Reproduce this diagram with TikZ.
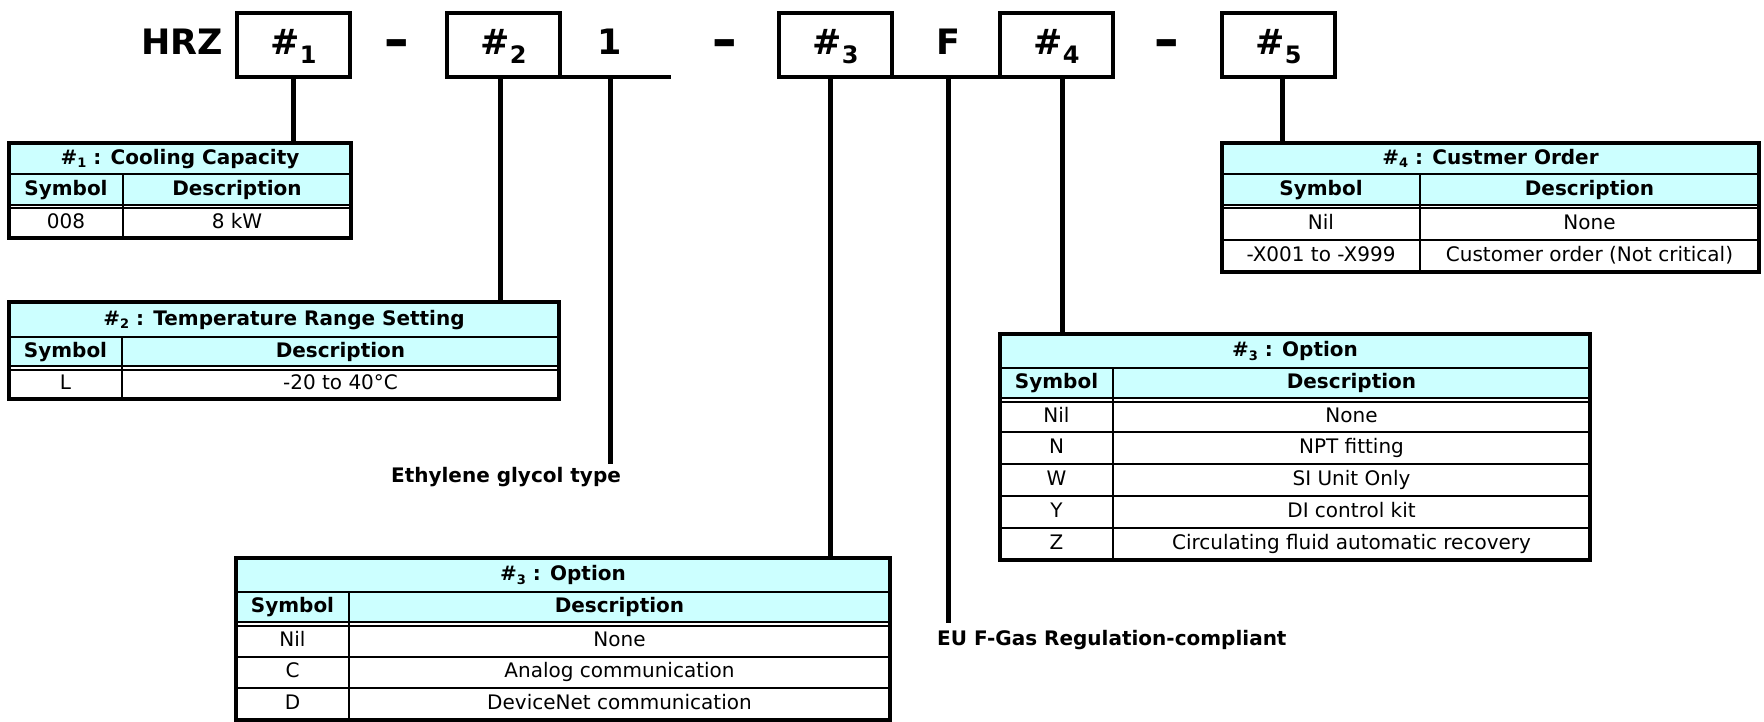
\documentclass[tikz,border=0pt]{standalone}
\usepackage{fontspec}
\setmainfont{DejaVu Sans}
\definecolor{hdrcyan}{HTML}{CCFFFF}
\tikzset{
 box/.style={draw, line width=4pt, minimum width=113pt, minimum height=64pt, anchor=north west, outer sep=0pt, inner sep=0pt, font=\fontsize{35}{40}\selectfont\bfseries, text height=26pt, text depth=6pt},
 big/.style={font=\fontsize{35}{40}\selectfont\bfseries, anchor=base, inner sep=0pt},
 conn/.style={line width=5pt},
 baseln/.style={line width=4pt},
 tframe/.style={draw=none, anchor=north west, inner sep=0pt, outer sep=0pt},
 tborder/.style={line width=4pt},
 tline/.style={line width=2pt},
 tb/.style={font=\fontsize{20}{24}\selectfont\bfseries, inner sep=0pt, text height=14.5pt, text depth=4pt},
 tr/.style={font=\fontsize{20}{24}\selectfont, inner sep=0pt, text height=14.5pt, text depth=4pt},
 lbl/.style={font=\fontsize{20}{24}\selectfont\bfseries, inner sep=0pt},
}
\newcommand\hsub[1]{\raisebox{-9pt}{\fontsize{24}{24}\selectfont #1}}
\newcommand\tsub[1]{\raisebox{-3.5pt}{\fontsize{13}{13}\selectfont #1}}
\newcommand\bigdash{\raisebox{-4pt}{\scalebox{1.4}[1.6]{–}}}
\begin{document}
\begin{tikzpicture}[x=1pt,y=-1pt]
\useasboundingbox (0,0) rectangle (1764,722);
\fill[white] (0,0) rectangle (1764,722);

% ---------- header ----------
\node[big] (hrz) at (182,55) {HRZ};
\node[box] (b1) at (237,13) {\#\hsub{1}};
\node[big] (d1) at (397,55) {\bigdash};
\node[box] (b2) at (447,13) {\#\hsub{2}};
\node[big] (one) at (610,55) {1};
\coordinate (u1) at (671,77);
\node[big] (d2) at (725,55) {\bigdash};
\node[box] (b3) at (779,13) {\#\hsub{3}};
\node[big] (f) at (948,55) {F};
\node[box] (b4) at (1000,13) {\#\hsub{4}};
\node[big] (d3) at (1167,55) {\bigdash};
\node[box] (b5) at (1222,13) {\#\hsub{5}};
\draw[baseln] (b2.south east) -- (u1);
\draw[baseln] (b3.south east) -- (b4.south west);

% ---------- labels ----------
\node[lbl, anchor=north] (eth) at (506,467) {Ethylene glycol type};
\node[lbl, anchor=north west] (eu) at (937,630) {EU F-Gas Regulation-compliant};

% ---------- table frames (references) ----------
\node[tframe, minimum width=342pt, minimum height=95pt] (t1) at (9,143) {};
\node[tframe, minimum width=550pt, minimum height=97pt] (t2) at (9,302) {};
\node[tframe, minimum width=654pt, minimum height=162pt] (t3) at (236,558) {};
\node[tframe, minimum width=590pt, minimum height=226pt] (t4) at (1000,334) {};
\node[tframe, minimum width=537pt, minimum height=129pt] (t5) at (1222,143) {};

% ---------- connectors ----------
\draw[conn] (b1.south) -- (b1.south |- t1.north);
\draw[conn] ([xshift=-3pt]b2.south) -- ([xshift=-3pt]b2.south |- t2.north);
\draw[conn] (one |- u1) -- ([yshift=3pt]one |- eth.north);
\draw[conn] ([xshift=-5pt]b3.south) -- ([xshift=-5pt]b3.south |- t3.north);
\draw[conn] (f |- b3.south) -- ([yshift=7pt]f |- eu.north);
\draw[conn] ([xshift=6pt]b4.south) -- ([xshift=6pt]b4.south |- t4.north);
\draw[conn] ([xshift=4pt]b5.south) -- ([xshift=4pt]b5.south |- t5.north);

% ---------- table 1 ----------
\fill[hdrcyan] (9,143) rectangle (351,205);
\draw[tline] (9,174) -- (351,174);
\draw[tline] (123,174) -- (123,238);
\draw[tline] (9,205) -- (351,205);
\draw[tline] (9,208.5) -- (351,208.5);
\draw[tborder] (t1.north west) rectangle (t1.south east);
\node[tb] (t1h) at (180,159) {\#\tsub{1} : Cooling Capacity};
\node[tb] (t1s) at (66,190) {Symbol};
\node[tb] (t1d) at (237,190) {Description};
\node[tr] (t1a) at (66,223.5) {008};
\node[tr] (t1b) at (237,223.5) {8 kW};

% ---------- table 2 ----------
\fill[hdrcyan] (9,302) rectangle (559,366);
\draw[tline] (9,337) -- (559,337);
\draw[tline] (122,337) -- (122,399);
\draw[tline] (9,366) -- (559,366);
\draw[tline] (9,369.5) -- (559,369.5);
\draw[tborder] (t2.north west) rectangle (t2.south east);
\node[tb] (t2h) at (284,320) {\#\tsub{2} : Temperature Range Setting};
\node[tb] (t2s) at (65.5,352) {Symbol};
\node[tb] (t2d) at (340.5,352) {Description};
\node[tr] (t2a) at (65.5,384.5) {L};
\node[tr] (t2b) at (340.5,384.5) {-20 to 40°C};

% ---------- table 3 (bottom) ----------
\fill[hdrcyan] (236,558) rectangle (890,622);
\draw[tline] (236,592) -- (890,592);
\draw[tline] (349,592) -- (349,720);
\draw[tline] (236,622) -- (890,622);
\draw[tline] (236,625.5) -- (890,625.5);
\draw[tline] (236,657) -- (890,657);
\draw[tline] (236,688) -- (890,688);
\draw[tborder] (t3.north west) rectangle (t3.south east);
\node[tb] (t3h) at (563,575.5) {\#\tsub{3} : Option};
\node[tb] (t3s) at (292.5,607.5) {Symbol};
\node[tb] (t3d) at (619.5,607.5) {Description};
\node[tr] (t3a1) at (292.5,641.5) {Nil};
\node[tr] (t3b1) at (619.5,641.5) {None};
\node[tr] (t3a2) at (292.5,672.5) {C};
\node[tr] (t3b2) at (619.5,672.5) {Analog communication};
\node[tr] (t3a3) at (292.5,704) {D};
\node[tr] (t3b3) at (619.5,704) {DeviceNet communication};

% ---------- table 4 (right option) ----------
\fill[hdrcyan] (1000,334) rectangle (1590,398);
\draw[tline] (1000,368) -- (1590,368);
\draw[tline] (1113,368) -- (1113,560);
\draw[tline] (1000,398) -- (1590,398);
\draw[tline] (1000,401.5) -- (1590,401.5);
\draw[tline] (1000,432) -- (1590,432);
\draw[tline] (1000,464) -- (1590,464);
\draw[tline] (1000,496) -- (1590,496);
\draw[tline] (1000,528) -- (1590,528);
\draw[tborder] (t4.north west) rectangle (t4.south east);
\node[tb] (t4h) at (1295,351.5) {\#\tsub{3} : Option};
\node[tb] (t4s) at (1056.5,383.5) {Symbol};
\node[tb] (t4d) at (1351.5,383.5) {Description};
\node[tr] (t4a1) at (1056.5,417) {Nil};
\node[tr] (t4b1) at (1351.5,417) {None};
\node[tr] (t4a2) at (1056.5,448.5) {N};
\node[tr] (t4b2) at (1351.5,448.5) {NPT fitting};
\node[tr] (t4a3) at (1056.5,480.5) {W};
\node[tr] (t4b3) at (1351.5,480.5) {SI Unit Only};
\node[tr] (t4a4) at (1056.5,512.5) {Y};
\node[tr] (t4b4) at (1351.5,512.5) {DI control kit};
\node[tr] (t4a5) at (1056.5,544.5) {Z};
\node[tr] (t4b5) at (1351.5,544.5) {Circulating fluid automatic recovery};

% ---------- table 5 ----------
\fill[hdrcyan] (1222,143) rectangle (1759,205);
\draw[tline] (1222,174) -- (1759,174);
\draw[tline] (1420,174) -- (1420,272);
\draw[tline] (1222,205) -- (1759,205);
\draw[tline] (1222,208.5) -- (1759,208.5);
\draw[tline] (1222,240) -- (1759,240);
\draw[tborder] (t5.north west) rectangle (t5.south east);
\node[tb] (t5h) at (1490.5,159) {\#\tsub{4} : Custmer Order};
\node[tb] (t5s) at (1321,190) {Symbol};
\node[tb] (t5d) at (1589.5,190) {Description};
\node[tr] (t5a1) at (1321,224.5) {Nil};
\node[tr] (t5b1) at (1589.5,224.5) {None};
\node[tr] (t5a2) at (1321,256.5) {-X001 to -X999};
\node[tr] (t5b2) at (1589.5,256.5) {Customer order (Not critical)};
\end{tikzpicture}
\end{document}
